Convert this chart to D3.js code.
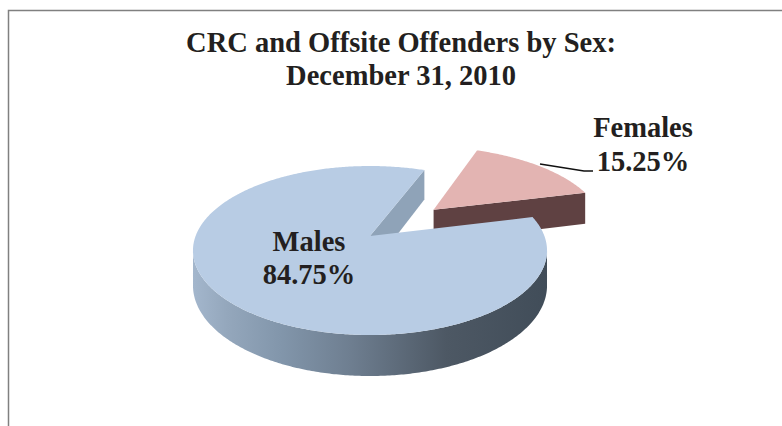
<!DOCTYPE html>
<html>
<head>
<meta charset="utf-8">
<script src="https://cdnjs.cloudflare.com/ajax/libs/d3/7.8.5/d3.min.js"></script>
<style>
    html, body { margin: 0; padding: 0; background: #fff; }
    svg { display: block; }
    text { font-family: "Liberation Serif", serif; font-weight: bold; fill: #231f20; text-anchor: middle; }
</style>
</head>
<body>
<div id="chart"></div>
<script>
// Values
const categories = ["Females", "Males"];
const shares = [15.25, 84.75];
const titleLines = ["CRC and Offsite Offenders by Sex:", "December 31, 2010"];

const width = 782, height = 426;

// Tilted pie: the disc lies flat and is projected with some perspective
const apex = {x: 370, y: 236};
const radiusX = 174.4, radiusY = 82, tilt = 0.1716, depth = 34;
const explode = 0.514; // how far the Females slice is pulled out

const svg = d3.select("#chart").append("svg")
    .attr("width", width)
    .attr("height", height);

// Frame, only left and top sides are in the crop
svg.append("path")
    .attr("d", "M8.5," + height + "V10.5H" + width)
    .attr("fill", "none")
    .attr("stroke", "#808080")
    .attr("stroke-width", 1.5);

// Wall shading
const grad = svg.append("defs").append("linearGradient")
    .attr("id", "wall")
    .attr("gradientUnits", "userSpaceOnUse")
    .attr("x1", 192).attr("x2", 545).attr("y1", 0).attr("y2", 0);
[[0, "#a4b7cd"], [0.1, "#94a7bc"], [0.25, "#8296ab"], [0.45, "#6e7e90"], [0.72, "#4d5864"], [1, "#414d59"]]
    .forEach(s => grad.append("stop").attr("offset", s[0]).attr("stop-color", s[1]));

// Project a disc point (X right, Y toward viewer) to the screen, z = 1 is the bottom face
function project(X, Y, z) {
    const w = 1 - tilt * Y;
    return [apex.x + radiusX * X / w, apex.y + (radiusY * Y + depth * z) / w];
}
const rim = (angle, off, z) => project(off[0] + Math.sin(angle), off[1] - Math.cos(angle), z);
const line = d3.line();

const pie = d3.pie().sort(null).startAngle(21.2 * Math.PI / 180).endAngle(381.2 * Math.PI / 180);
const slices = pie(shares).map((d, i) => ({...d, name: categories[i]}));

function arcAngles(d) {
    const n = Math.ceil((d.endAngle - d.startAngle) * 90);
    return d3.range(n + 1).map(i => d.startAngle + (d.endAngle - d.startAngle) * i / n);
}

function drawSlice(d, off, topColor, faceColor, faceAngle, wallFill) {
    const g = svg.append("g").attr("class", "slice " + d.name);
    const angles = arcAngles(d);

    // Cut face running from the centre out to the rim
    g.append("path")
        .attr("d", line([
            project(off[0], off[1], 0), rim(faceAngle, off, 0),
            rim(faceAngle, off, 1), project(off[0], off[1], 1)
        ]) + "Z")
        .attr("fill", faceColor);

    // Outer wall, only where the rim faces the viewer
    const front = angles.filter(a => off[1] - Math.cos(a) > tilt);
    if (front.length) {
        g.append("path")
            .attr("d", line(front.map(a => rim(a, off, 0))
                .concat(front.slice().reverse().map(a => rim(a, off, 1)))) + "Z")
            .attr("fill", wallFill);
    }

    // Top face
    g.append("path")
        .attr("d", line([project(off[0], off[1], 0)].concat(angles.map(a => rim(a, off, 0)))) + "Z")
        .attr("fill", topColor);
}

// Females first, the Males top face overlaps its wall
const fem = slices[0], mal = slices[1];
const femMid = (fem.startAngle + fem.endAngle) / 2;
const femOff = [explode * Math.sin(femMid), -explode * Math.cos(femMid)];

drawSlice(fem, femOff, "#e3b4b2", "#5f4142", fem.endAngle, "#5f4142");
drawSlice(mal, [0, 0], "#b8cce4", "#8fa3b8", mal.endAngle, "url(#wall)");

// Title
svg.selectAll(".title")
    .data(titleLines)
    .enter().append("text")
    .attr("class", "title")
    .attr("x", 401)
    .attr("y", (d, i) => 52 + i * 33)
    .attr("font-size", 28.5)
    .text(d => d);

// Labels
const labelPos = {Females: {x: 643, y: 137, dy: 34}, Males: {x: 309, y: 251, dy: 33}};
slices.forEach(d => {
    const p = labelPos[d.name];
    svg.append("text").attr("x", p.x).attr("y", p.y).attr("font-size", 28.5).text(d.name);
    svg.append("text").attr("x", p.x).attr("y", p.y + p.dy).attr("font-size", 28.5)
        .text(d3.format(".2f")(d.value) + "%");
});

// Leader line for Females
svg.append("path")
    .attr("d", "M540,164L584,171H593")
    .attr("fill", "none")
    .attr("stroke", "#111")
    .attr("stroke-width", 1.4);
</script>
</body>
</html>
